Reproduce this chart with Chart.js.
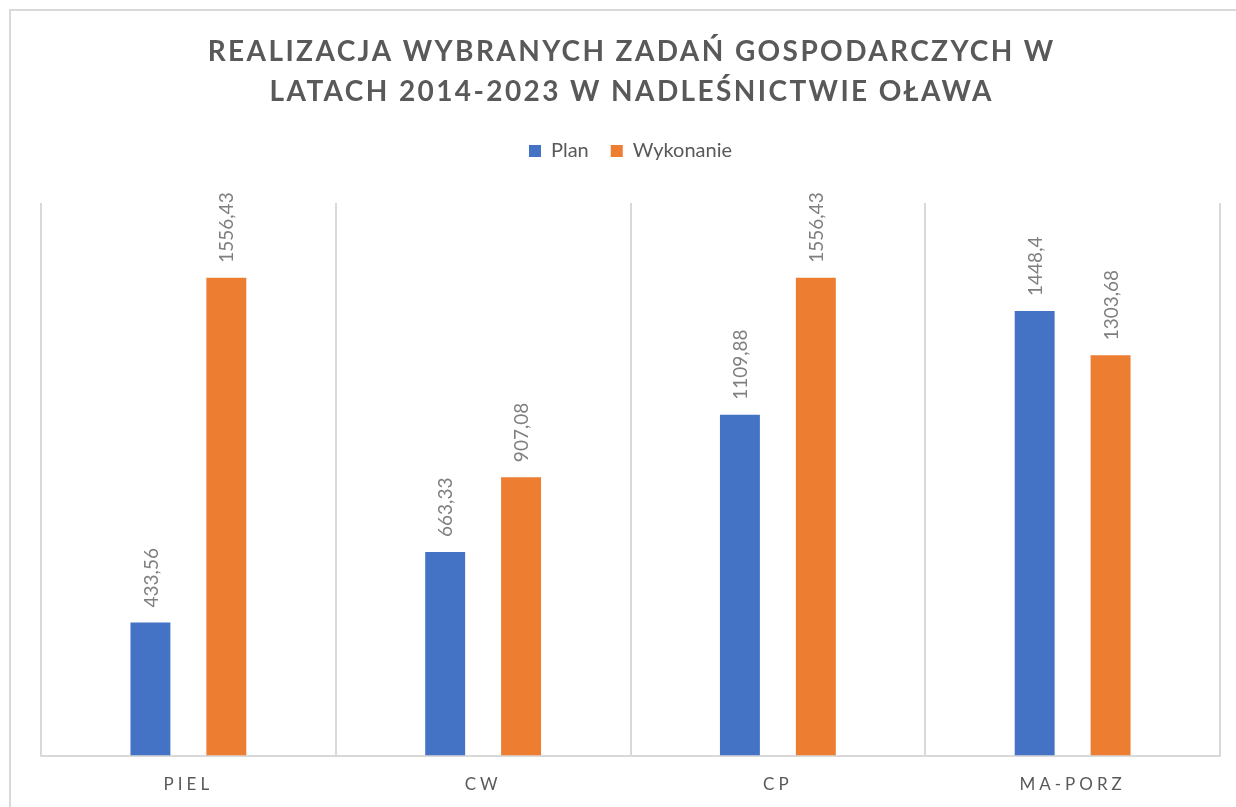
<!DOCTYPE html>
<html lang="pl">
<head>
<meta charset="utf-8">
<title>Realizacja wybranych zadań gospodarczych</title>
<script src="https://cdn.jsdelivr.net/npm/chart.js@4/dist/chart.umd.min.js"></script>
<style>
  html, body { margin: 0; padding: 0; background: #fff; overflow: hidden; }
  #frame { position: absolute; left: 9px; top: 9px; width: 1300px; height: 900px;
           border: 2px solid #d9d9d9; box-sizing: border-box; }
  #wrap { position: absolute; left: 0; top: 0; width: 1236px; height: 807px; }
</style>
</head>
<body>
<div id="frame"></div>
<div id="wrap"><canvas id="chart"></canvas></div>
<script>
const titleLines = ["REALIZACJA WYBRANYCH ZADAŃ GOSPODARCZYCH W", "LATACH 2014-2023 W NADLEŚNICTWIE OŁAWA"];
const categories = ["PIEL", "CW", "CP", "MA-PORZ"];
const planValues = [433.56, 663.33, 1109.88, 1448.4];
const doneValues = [1556.43, 907.08, 1556.43, 1303.68];
const seriesNames = ["Plan", "Wykonanie"];

const GREY = "#595959";
const GRID = "#d9d9d9";

// category axis with spaced-out tick letters
class SpacedCategoryScale extends Chart.CategoryScale {
    drawLabels(chartArea) {
        const ctx = this.ctx;
        ctx.save();
        ctx.letterSpacing = "4px";
        super.drawLabels(chartArea);
        ctx.restore();
    }
}
SpacedCategoryScale.id = "spacedCategory";
SpacedCategoryScale.defaults = Chart.CategoryScale.defaults;
Chart.register(SpacedCategoryScale);

// title drawn by hand so the letters can be spaced
const titlePlugin = {
    id: "spacedTitle",
    afterDraw(chart) {
        const ctx = chart.ctx;
        const cx = (chart.chartArea.left + chart.chartArea.right) / 2;
        ctx.save();
        ctx.font = 'bold 28px Lato, sans-serif';
        ctx.fillStyle = GREY;
        ctx.textAlign = "center";
        ctx.textBaseline = "alphabetic";
        const w0 = ctx.measureText(titleLines[0]).width;
        const sp = Math.max(0, (848 - w0) / titleLines[0].length);
        ctx.letterSpacing = sp + "px";
        titleLines.forEach((line, i) => ctx.fillText(line, cx + sp / 2, 61 + i * 40));
        ctx.restore();
    }
};

// rotated value labels above the bars
const valueLabels = {
    id: "valueLabels",
    afterDatasetsDraw(chart) {
        const ctx = chart.ctx;
        ctx.save();
        ctx.font = '19px Lato, sans-serif';
        ctx.fillStyle = "#7f7f7f";
        ctx.textAlign = "left";
        ctx.textBaseline = "middle";
        chart.data.datasets.forEach((ds, di) => {
            chart.getDatasetMeta(di).data.forEach((bar, i) => {
                const txt = String(ds.data[i]).replace(".", ",");
                ctx.save();
                ctx.translate(bar.x + 1, bar.y - 15);
                ctx.rotate(-Math.PI / 2);
                ctx.fillText(txt, 0, 0);
                ctx.restore();
            });
        });
        ctx.restore();
    }
};

// extra room between legend and plot
const legendGap = {
    id: "legendGap",
    beforeInit(chart) {
        const fit = chart.legend.fit;
        chart.legend.fit = function () {
            fit.bind(chart.legend)();
            this.height += 32;
        };
    }
};

new Chart(document.getElementById("chart"), {
    type: "bar",
    data: {
        labels: categories,
        datasets: [
            { label: seriesNames[0], data: planValues, backgroundColor: "#4472c4" },
            { label: seriesNames[1], data: doneValues, backgroundColor: "#ed7d31" }
        ]
    },
    options: {
        responsive: true,
        maintainAspectRatio: false,
        animation: false,
        categoryPercentage: 0.515,
        barPercentage: 0.526,
        layout: { padding: { top: 119, left: 41, right: 16, bottom: -7 } },
        plugins: {
            title: { display: false },
            tooltip: { enabled: false },
            legend: {
                position: "top",
                labels: {
                    boxWidth: 12, boxHeight: 12, padding: 22,
                    color: GREY,
                    font: { family: "Lato", size: 20 }
                }
            }
        },
        scales: {
            x: {
                type: "spacedCategory",
                grid: { display: true, color: GRID, lineWidth: 2, drawTicks: false },
                border: { display: true, color: GRID, width: 2 },
                ticks: { color: GREY, padding: 19, font: { family: "Lato", size: 17 } }
            },
            y: {
                display: false,
                min: 0,
                max: 1800
            }
        }
    },
    plugins: [titlePlugin, valueLabels, legendGap]
});
</script>
</body>
</html>
